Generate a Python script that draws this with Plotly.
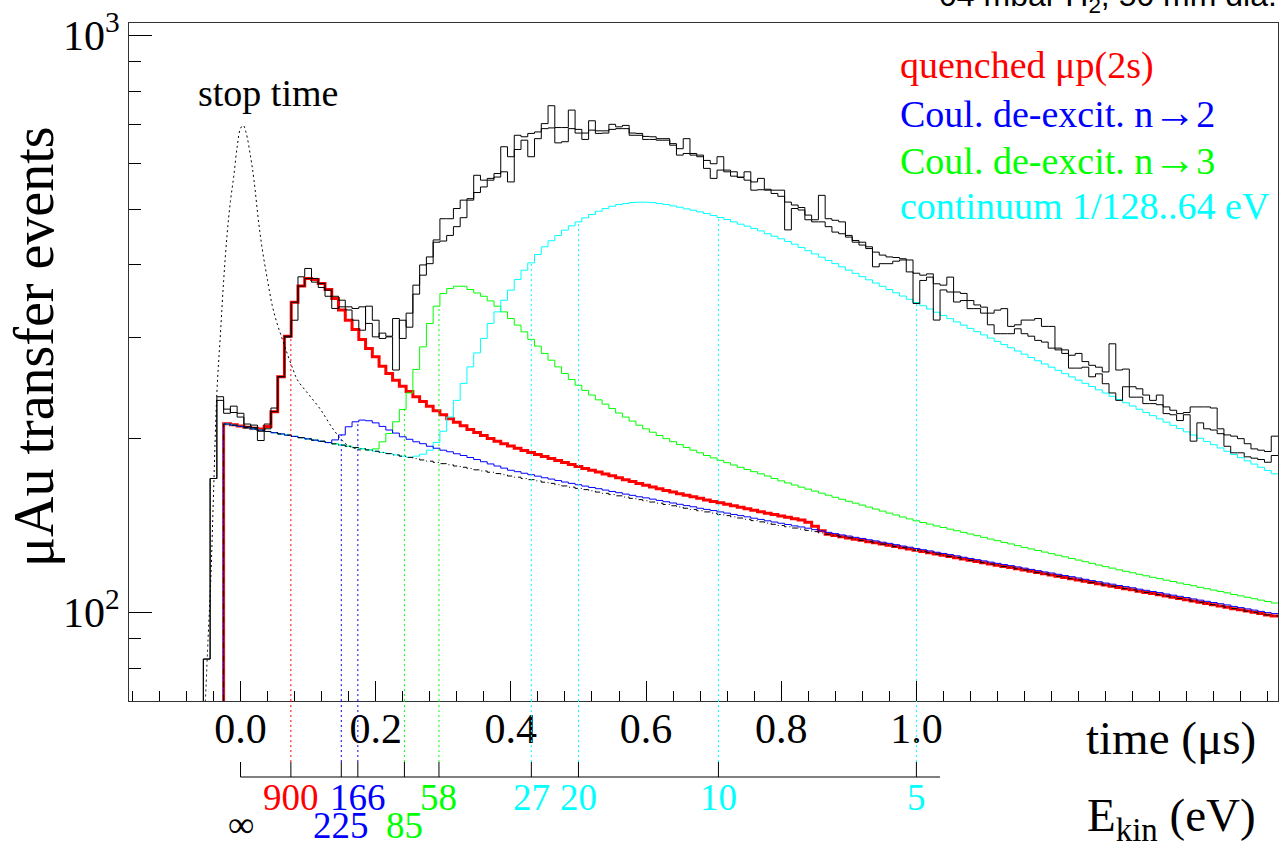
import plotly.graph_objects as go

# ------------------------------------------------------------------ data
BIN_WIDTH = 0.01          # us
MODEL_FIRST_BIN = -0.02   # centre of first model bin (us)
DATA_FIRST_BIN = -0.05    # centre of first data bin (us)

background = [
    212.0, 211.0, 210.0, 208.9, 207.9, 206.9, 205.8, 204.8, 203.8, 202.8,
    201.8, 200.8, 199.8, 198.8, 197.9, 196.9, 195.9, 194.9, 194.0, 193.0,
    192.1, 191.2, 190.2, 189.3, 188.4, 187.4, 186.5, 185.6, 184.7, 183.7,
    182.8, 181.9, 181.0, 180.2, 179.3, 178.4, 177.5, 176.6, 175.8, 174.9,
    174.0, 173.2, 172.3, 171.5, 170.6, 169.8, 169.0, 168.1, 167.3, 166.4,
    165.6, 164.8, 164.0, 163.2, 162.4, 161.6, 160.8, 160.0, 159.2, 158.4,
    157.6, 156.8, 156.1, 155.3, 154.6, 153.8, 153.0, 152.3, 151.5, 150.8,
    150.0, 149.3, 148.6, 147.8, 147.1, 146.4, 145.7, 145.0, 144.2, 143.5,
    142.8, 142.1, 141.4, 140.7, 140.0, 139.4, 138.7, 138.0, 137.3, 136.6,
    135.9, 135.2, 134.6, 133.9, 133.3, 132.6, 132.0, 131.3, 130.7, 130.0,
    129.4, 128.8, 128.1, 127.5, 126.9, 126.2, 125.6, 125.0, 124.4, 123.7,
    123.1, 122.5, 121.9, 121.3, 120.7, 120.1, 119.6, 119.0, 118.4, 117.8,
    117.2, 116.6, 116.1, 115.5, 114.9, 114.4, 113.8, 113.2, 112.6, 112.1,
    111.5, 111.0, 110.4, 109.9, 109.4, 108.8, 108.3, 107.8, 107.3, 106.7,
    106.2, 105.7, 105.2, 104.6, 104.1, 103.6, 103.1, 102.6, 102.1, 101.5,
    101.0, 100.5, 100.0, 99.5, 99.0, 98.6]

quenched_2s = [
    212.3, 211.3, 210.3, 209.3, 208.4, 207.8, 210.0, 222.7, 256.0, 301.0,
    344.7, 367.6, 379.0, 377.5, 371.5, 362.7, 349.8, 334.2, 320.8, 309.1,
    297.2, 286.7, 277.3, 267.1, 259.4, 252.6, 246.6, 241.5, 236.5, 232.0,
    227.5, 223.5, 220.0, 216.5, 213.5, 210.5, 207.5, 205.0, 202.5, 200.2,
    198.0, 196.0, 194.2, 192.5, 190.8, 189.3, 187.8, 186.3, 184.8, 183.3,
    181.9, 180.4, 178.9, 177.6, 176.3, 175.0, 173.7, 172.4, 171.1, 169.8,
    168.5, 167.2, 166.0, 164.9, 163.8, 162.7, 161.6, 160.6, 159.6, 158.6,
    157.6, 156.6, 155.7, 154.8, 153.9, 153.0, 152.1, 151.2, 150.3, 149.4,
    148.5, 147.7, 146.9, 146.1, 145.3, 144.5, 143.2, 141.0, 138.5, 136.6,
    135.9, 135.2, 134.6, 133.9, 133.3, 132.6, 132.0, 131.3, 130.7, 130.0,
    129.4, 128.8, 128.1, 127.5, 126.9, 126.2, 125.6, 125.0, 124.4, 123.7,
    123.1, 122.5, 121.9, 121.3, 120.7, 120.1, 119.6, 119.0, 118.4, 117.8,
    117.2, 116.6, 116.1, 115.5, 114.9, 114.4, 113.8, 113.2, 112.6, 112.1,
    111.5, 111.0, 110.4, 109.9, 109.4, 108.8, 108.3, 107.8, 107.3, 106.7,
    106.2, 105.7, 105.2, 104.6, 104.1, 103.6, 103.1, 102.6, 102.1, 101.5,
    101.0, 100.5, 100.0, 99.5, 99.0, 98.6]

coulomb_n2 = [
    212.0, 211.0, 210.0, 208.9, 207.9, 206.9, 205.8, 204.8, 203.8, 202.8,
    201.8, 200.8, 199.8, 198.8, 197.9, 196.9, 199.0, 203.0, 209.7, 213.9,
    215.4, 214.8, 213.0, 210.0, 207.0, 204.5, 201.5, 199.5, 197.5, 196.0,
    194.0, 192.5, 191.0, 189.8, 188.3, 187.0, 185.5, 184.0, 182.4, 180.8,
    179.3, 177.8, 176.3, 175.3, 174.2, 173.2, 172.2, 171.1, 170.2, 169.2,
    168.2, 167.3, 166.4, 165.5, 164.6, 163.8, 162.9, 162.0, 161.2, 160.3,
    159.5, 158.6, 157.9, 157.1, 156.3, 155.5, 154.7, 153.9, 153.1, 152.4,
    151.5, 150.8, 150.1, 149.3, 148.6, 147.8, 147.1, 146.4, 145.6, 144.9,
    144.1, 143.4, 142.7, 142.0, 141.2, 140.6, 139.9, 139.1, 138.4, 137.6,
    136.9, 136.2, 135.6, 134.9, 134.3, 133.6, 133.0, 132.3, 131.7, 131.0,
    130.3, 129.7, 129.0, 128.4, 127.8, 127.1, 126.5, 125.9, 125.3, 124.6,
    124.0, 123.4, 122.8, 122.2, 121.6, 121.0, 120.5, 119.9, 119.3, 118.7,
    118.1, 117.5, 117.0, 116.4, 115.8, 115.3, 114.7, 114.1, 113.5, 113.0,
    112.4, 111.9, 111.3, 110.8, 110.3, 109.7, 109.2, 108.7, 108.2, 107.6,
    107.1, 106.6, 106.1, 105.5, 105.0, 104.5, 104.0, 103.5, 103.0, 102.4,
    101.9, 101.4, 100.9, 100.4, 99.9, 99.5]

coulomb_n3 = [
    212.0, 211.0, 210.0, 208.9, 207.9, 206.9, 205.8, 204.8, 203.8, 202.8,
    201.8, 200.8, 199.8, 198.8, 197.9, 196.9, 195.9, 194.9, 194.0, 193.0,
    192.1, 191.2, 192.0, 197.5, 204.2, 213.9, 224.7, 240.0, 263.6, 288.5,
    316.6, 339.3, 356.8, 364.0, 367.4, 367.4, 362.6, 357.7, 353.0, 346.5,
    339.3, 331.7, 323.0, 314.6, 306.3, 297.2, 289.3, 281.0, 273.5, 266.3,
    259.4, 253.2, 247.5, 242.5, 238.0, 233.5, 229.5, 225.5, 221.5, 218.0,
    214.5, 211.0, 208.0, 205.2, 202.5, 200.0, 197.6, 195.3, 193.1, 191.0,
    189.0, 187.0, 185.2, 183.4, 181.7, 180.0, 178.4, 176.8, 175.3, 173.8,
    172.3, 170.6, 169.0, 167.6, 166.2, 164.8, 163.5, 162.2, 160.9, 159.6,
    158.3, 157.0, 155.8, 154.6, 153.4, 152.2, 151.0, 149.8, 148.6, 147.5,
    146.3, 145.2, 144.1, 143.1, 142.2, 141.2, 140.3, 139.4, 138.5, 137.6,
    136.7, 135.8, 134.9, 134.0, 133.1, 132.2, 131.4, 130.5, 129.6, 128.8,
    128.0, 127.2, 126.4, 125.6, 124.8, 124.0, 123.2, 122.4, 121.6, 120.8,
    120.0, 119.3, 118.5, 117.8, 117.1, 116.4, 115.7, 115.0, 114.4, 113.7,
    113.1, 112.4, 111.8, 111.2, 110.5, 109.9, 109.3, 108.7, 108.1, 107.4,
    106.8, 106.2, 105.6, 105.0, 104.4, 103.8]

continuum = [
    212.0, 211.0, 210.0, 208.9, 207.9, 206.9, 205.8, 204.8, 203.8, 202.8,
    201.8, 200.8, 199.8, 198.8, 197.9, 196.9, 195.9, 194.9, 194.0, 193.0,
    192.1, 191.2, 190.2, 189.3, 188.4, 187.4, 186.5, 185.6, 186.5, 188.0,
    191.0, 197.0, 206.0, 218.0, 233.0, 249.3, 266.3, 281.6, 298.3, 316.7,
    331.7, 347.5, 361.7, 377.5, 391.7, 403.3, 417.0, 430.0, 440.5, 449.8,
    459.5, 467.5, 475.0, 482.6, 489.2, 495.6, 500.9, 505.6, 509.0, 511.0,
    513.0, 513.7, 513.7, 513.0, 511.0, 509.0, 506.3, 503.6, 500.3, 497.6,
    494.3, 491.0, 487.1, 483.3, 479.5, 475.0, 470.6, 466.9, 462.6, 458.2,
    453.0, 448.5, 444.0, 439.3, 434.5, 428.9, 423.4, 418.0, 412.6, 407.3,
    402.1, 396.9, 391.8, 386.8, 381.8, 376.9, 372.1, 367.3, 362.6, 357.9,
    353.3, 348.8, 344.3, 339.9, 335.5, 331.2, 327.0, 322.8, 318.6, 314.5,
    310.5, 306.5, 302.6, 298.7, 294.9, 291.1, 287.4, 283.7, 280.1, 276.5,
    272.9, 269.4, 266.0, 262.6, 259.2, 255.9, 252.6, 249.4, 246.2, 243.0,
    239.9, 236.8, 233.8, 230.8, 227.8, 224.9, 222.0, 219.2, 216.4, 213.6,
    210.9, 208.2, 205.5, 202.9, 200.3, 197.7, 195.2, 192.7, 190.2, 187.8,
    185.4, 183.0, 180.7, 178.4, 176.1, 173.8]

data_run_a = [
    83, 170.6, 236.4, 221.3, 227.7, 221.3, 209.7, 211.1, 198.5, 212,
    222.7, 256, 301, 320.8, 381.5, 394.4, 379, 371.5, 361.7, 353,
    347.5, 338.4, 336.2, 338.4, 316.7, 300.2, 304.7, 301, 323, 298.3,
    330, 369, 400, 413, 442, 481, 481, 501, 518, 521,
    572, 561, 565, 576, 641, 616, 671, 667, 676, 680,
    703, 755, 692, 692, 742, 687, 677, 711, 683, 683,
    701, 694, 698, 677, 676, 668, 667, 662, 662, 649,
    636, 662, 624, 620, 607, 599, 616, 584, 580, 568,
    580, 557, 565, 541, 539, 539, 514, 508, 503, 488,
    479, 528, 481, 478, 475, 450, 441, 438, 430, 421,
    416, 413, 412, 410, 408, 387, 384, 386, 371, 369,
    381, 359, 357, 347, 341, 338, 330, 334, 336, 313,
    315, 321, 321, 323, 313, 313, 287, 285, 279, 281,
    272, 268, 266, 261, 292, 263, 264, 246, 244, 238,
    233, 238, 227, 224, 221, 222, 227, 227, 227, 226,
    208, 203, 202, 200, 196, 192, 191, 190, 202]

data_run_b = [
    83, 170.6, 233, 225, 222, 218, 212, 209, 206, 208,
    226, 256, 300, 344.7, 367.6, 379, 373.5, 365.6, 353, 336.2,
    338.4, 334.2, 320.8, 308.3, 339.3, 320.8, 298.3, 300.2, 263, 320.8,
    312, 356, 384, 402, 438, 440, 450, 466, 483, 518,
    534, 546, 561, 568, 580, 557, 634, 658, 616, 662,
    689, 691, 651, 654, 689, 677, 660, 685, 676, 677,
    687, 689, 689, 671, 671, 660, 660, 658, 658, 645,
    620, 624, 620, 616, 588, 565, 584, 580, 570, 567,
    561, 539, 540, 539, 532, 526, 460, 501, 498, 479,
    475, 475, 466, 456, 453, 447, 438, 433, 427, 397,
    402, 402, 406, 408, 389, 343, 376, 381, 321, 362,
    359, 345, 347, 336, 336, 330, 315, 304, 304, 304,
    310, 304, 301, 296, 294, 287, 285, 281, 265, 265,
    266, 256, 259, 249, 240, 233, 246, 236, 236, 230,
    230, 229, 221, 220, 215, 220, 198, 213, 208, 207,
    204, 194, 189, 189, 186, 185, 184, 182, 187]

stop_time_t = [-0.052, -0.048, -0.044, -0.040, -0.035, -0.030, -0.025, -0.020,
               -0.015, -0.010, -0.005, 0.000, 0.004, 0.008, 0.015, 0.020,
               0.027, 0.033, 0.040, 0.047, 0.054, 0.062, 0.069, 0.077,
               0.084, 0.099, 0.118, 0.138, 0.158, 0.178]
stop_time_counts = [70, 90, 114, 160, 240, 300, 375, 450,
                    515, 570, 640, 690, 698, 680, 615, 560,
                    472, 420, 376, 340, 317, 297, 281, 265,
                    253, 240, 225, 207, 195, 191]

energy_labels = ["900", "225", "166", "85", "58", "27", "20", "10", "5"]
energy_times = [0.0745, 0.1491, 0.1736, 0.2425, 0.2936, 0.4303, 0.5, 0.7071, 1.0]
energy_series = ["q", "n2", "n2", "n3", "n3", "c", "c", "c", "c"]
energy_row = [0, 1, 0, 1, 0, 0, 0, 0, 0]
energy_axis_end = 1.035

x_tick_vals = [0.0, 0.2, 0.4, 0.6, 0.8, 1.0]
x_tick_text = ["0.0", "0.2", "0.4", "0.6", "0.8", "1.0"]
y_tick_vals = [100, 1000]
y_tick_text = ["10<sup>2</sup>", "10<sup>3</sup>"]
y_minor_vals = [80, 90, 200, 300, 400, 500, 600, 700, 800, 900]

ARROW = "<span style='font-size:43px'>→</span>"
legend_text = ["quenched μp(2s)", "Coul. de-excit. n" + ARROW + "2",
               "Coul. de-excit. n" + ARROW + "3", "continuum 1/128..64 eV"]

# ------------------------------------------------------------------ style
RED, BLUE, GREEN, CYAN = "#ff0000", "#0000ff", "#00ff00", "#00ffff"
SERIF = "Liberation Serif"
W, H = 1284, 841
PL, PR, PT, PB = 129, 1278, 23, 701
series = {"q": (quenched_2s, RED), "n2": (coulomb_n2, BLUE),
          "n3": (coulomb_n3, GREEN), "c": (continuum, CYAN)}


def py(ypix):
    """pixel row -> paper y"""
    return (PB - ypix) / (PB - PT)


def px(xpix):
    return (xpix - PL) / (PR - PL)


def step_xy(first_centre, values):
    n = len(values)
    edges = [first_centre - BIN_WIDTH / 2 + i * BIN_WIDTH for i in range(n + 1)]
    xs = [edges[0]] + edges
    ys = [1.0] + list(values) + [values[-1]]
    return xs, ys


fig = go.Figure()


def add_hist(first, vals, color, width=1, dash="solid"):
    xs, ys = step_xy(first, vals)
    fig.add_trace(go.Scatter(x=xs, y=ys, mode="lines",
                             line=dict(color=color, width=width, dash=dash, shape="hv"),
                             hoverinfo="skip"))


add_hist(MODEL_FIRST_BIN, quenched_2s, RED, width=3)
add_hist(MODEL_FIRST_BIN, coulomb_n3, GREEN)
add_hist(MODEL_FIRST_BIN, continuum, CYAN)
add_hist(MODEL_FIRST_BIN, coulomb_n2, BLUE)
add_hist(MODEL_FIRST_BIN, background, "black", dash="6px,3px,1px,3px")

fig.add_trace(go.Scatter(x=stop_time_t, y=stop_time_counts, mode="lines",
                         line=dict(color="black", width=1, dash="2px,3px", shape="spline"),
                         hoverinfo="skip"))

shapes = []
annotations = []
for lab, t, key, row in zip(energy_labels, energy_times, energy_series, energy_row):
    vals, col = series[key]
    idx = int(round((t - MODEL_FIRST_BIN) / BIN_WIDTH))
    top = vals[idx]
    fig.add_trace(go.Scatter(x=[t, t], y=[50, top], mode="lines",
                             line=dict(color=col, width=1, dash="2px,3px"),
                             hoverinfo="skip"))
    shapes.append(dict(type="line", xref="x", yref="paper", x0=t, x1=t,
                       y0=py(762), y1=0, line=dict(color=col, width=1, dash="2px,3px")))
    shapes.append(dict(type="line", xref="x", yref="paper", x0=t, x1=t,
                       y0=py(777), y1=py(762), line=dict(color="black", width=1)))
    annotations.append(dict(xref="x", yref="paper", x=t,
                            y=py(797.5) if row == 0 else py(825.5),
                            text=lab, showarrow=False, xanchor="center", yanchor="middle",
                            font=dict(family=SERIF, size=37, color=col)))

shapes.append(dict(type="line", xref="x", yref="paper", x0=0, x1=0,
                   y0=py(777), y1=py(762), line=dict(color="black", width=1)))
shapes.append(dict(type="line", xref="x", yref="paper", x0=0, x1=energy_axis_end,
                   y0=py(777), y1=py(777), line=dict(color="black", width=1)))
annotations.append(dict(xref="x", yref="paper", x=0, y=py(825), text="∞",
                        showarrow=False, xanchor="center", yanchor="middle",
                        font=dict(family=SERIF, size=37, color="black")))

add_hist(DATA_FIRST_BIN, data_run_b, "black")
add_hist(DATA_FIRST_BIN, data_run_a, "black")

for i, (txt, col) in enumerate(zip(legend_text, [RED, BLUE, GREEN, CYAN])):
    annotations.append(dict(xref="paper", yref="paper", x=px(898), y=py(66 + i * 46.8),
                            text=txt, showarrow=False, xanchor="left", yanchor="middle",
                            font=dict(family=SERIF, size=38, color=col)))

annotations += [
    dict(xref="paper", yref="paper", x=px(267.5), y=py(93), text="stop time",
         showarrow=False, xanchor="center", yanchor="middle",
         font=dict(family=SERIF, size=38, color="black")),
    dict(xref="paper", yref="paper", x=px(1258), y=py(738), text="time (μs)",
         showarrow=False, xanchor="right", yanchor="middle",
         font=dict(family=SERIF, size=47, color="black")),
    dict(xref="paper", yref="paper", x=px(1258), y=py(818), text="E<sub>kin</sub> (eV)",
         showarrow=False, xanchor="right", yanchor="middle",
         font=dict(family=SERIF, size=47, color="black")),
    dict(xref="paper", yref="paper", x=px(34), y=py(347), text="μAu transfer events",
         showarrow=False, xanchor="center", yanchor="middle", textangle=-90,
         font=dict(family=SERIF, size=56, color="black")),
    dict(xref="paper", yref="paper", x=px(1279), y=py(-3), text="04 mbar H<sub>2</sub>, 50 mm dia.",
         showarrow=False, xanchor="right", yanchor="middle",
         font=dict(family="Liberation Sans", size=32, color="black")),
]

fig.update_layout(
    width=W, height=H, autosize=False,
    margin=dict(l=PL, r=W - PR, t=PT, b=H - PB, autoexpand=False),
    paper_bgcolor="white", plot_bgcolor="white",
    showlegend=False,
    font=dict(family=SERIF, color="black"),
    shapes=shapes, annotations=annotations,
    xaxis=dict(range=[-0.165, 1.535], showgrid=False, zeroline=False, automargin=False,
               showline=True, linecolor="#333", linewidth=1, mirror=True,
               ticks="inside", ticklen=20, tickcolor="black", tickwidth=1,
               tickmode="array", tickvals=x_tick_vals, ticktext=x_tick_text,
               ticklabelstandoff=-9,
               tickfont=dict(family=SERIF, size=42, color="black"),
               minor=dict(dtick=0.04, tick0=0, ticks="inside", ticklen=10,
                          tickcolor="black", tickwidth=1, showgrid=False)),
    yaxis=dict(type="log", range=[1.8464, 3.0213], showgrid=False, zeroline=False, automargin=False,
               showline=True, linecolor="#333", linewidth=1, mirror=True,
               ticks="inside", ticklen=23, tickcolor="black", tickwidth=1,
               tickmode="array", tickvals=y_tick_vals, ticktext=y_tick_text,
               tickfont=dict(family=SERIF, size=42, color="black"),
               minor=dict(tickmode="array", tickvals=y_minor_vals, ticks="inside",
                          ticklen=12, tickcolor="black", tickwidth=1, showgrid=False)),
)

fig.write_html("out.html",
               config={"displayModeBar": False, "staticPlot": True},
               post_script="document.body.style.margin='0px';"
                           "document.body.style.overflow='hidden';")
